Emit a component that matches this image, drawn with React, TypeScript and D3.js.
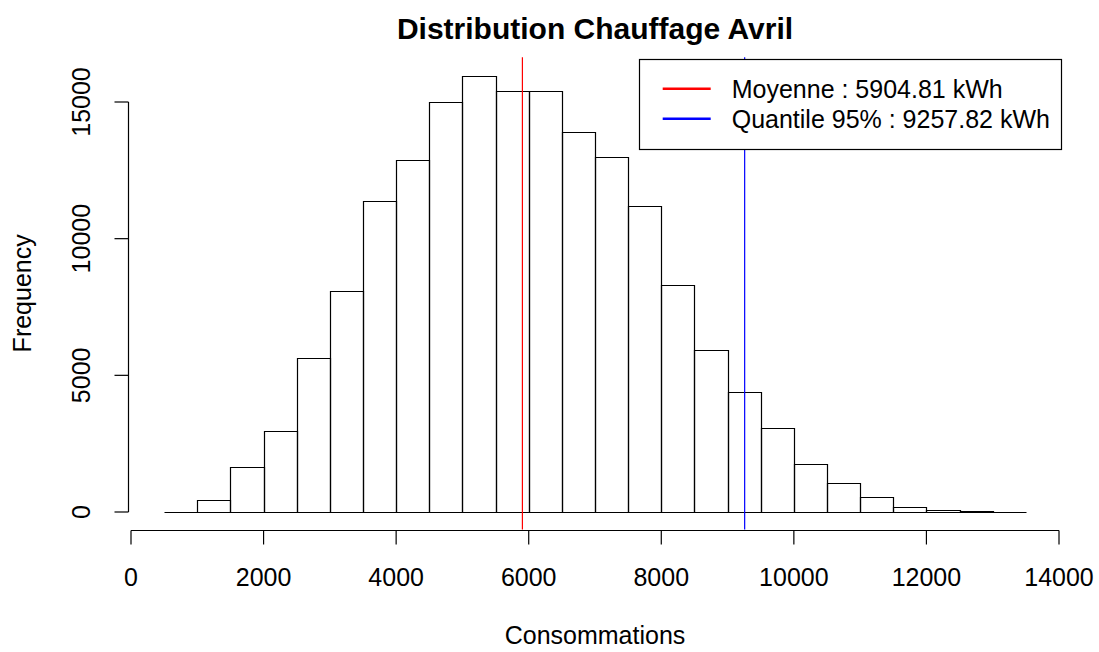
import React from "react";
import * as d3 from "d3";

const binStarts: number[] = [500, 1000, 1500, 2000, 2500, 3000, 3500, 4000, 4500, 5000, 5500, 6000, 6500, 7000, 7500, 8000, 8500, 9000, 9500, 10000, 10500, 11000, 11500, 12000, 12500, 13000];
const binWidth = 500;
const counts: number[] = [0, 430, 1660, 2950, 5630, 8100, 11360, 12890, 14990, 15950, 15400, 15420, 13890, 12990, 11190, 8320, 5920, 4400, 3060, 1770, 1060, 550, 190, 70, 50, 0];
const xTicks: number[] = [0, 2000, 4000, 6000, 8000, 10000, 12000, 14000];
const yTicks: number[] = [0, 5000, 10000, 15000];
const meanValue = 5904.81;
const q95Value = 9257.82;
const legendLabels: string[] = ["Moyenne : 5904.81 kWh", "Quantile 95% : 9257.82 kWh"];
const legendColors: string[] = ["#FF0000", "#0000FF"];
const title = "Distribution Chauffage Avril";
const xLabel = "Consommations";
const yLabel = "Frequency";

const W = 1099;
const H = 652;
const FONT = "'Liberation Sans', Arial, Helvetica, sans-serif";

export default function App() {
  const x = d3.scaleLinear().domain([0, 14000]).range([131, 1059]);
  const y = d3.scaleLinear().domain([0, 15000]).range([512, 102]);

  const plotLeft = x(-20);
  const plotRight = x(14020);
  const plotTop = y(16640);
  const plotBottom = y(-640);

  const cx = (plotLeft + plotRight) / 2;
  const cy = (plotTop + plotBottom) / 2;

  const bars = binStarts.map((s, i) => ({ x0: s, x1: s + binWidth, c: counts[i] }));

  const legX0 = 639.5;
  const legY0 = 59.5;
  const legX1 = 1061.5;
  const legY1 = 149.5;

  const barPath = (b: { x0: number; x1: number; c: number }) => {
    const l = Math.round(x(b.x0)) + 0.5;
    const r = Math.round(x(b.x1)) + 0.5;
    const t = Math.round(y(b.c)) + 0.5;
    const bt = Math.round(y(0)) + 0.5;
    const p = d3.path();
    p.moveTo(l, bt);
    p.lineTo(l, t);
    p.lineTo(r, t);
    p.lineTo(r, bt);
    p.closePath();
    return p.toString();
  };

  return (
    <svg
      width={W}
      height={H}
      style={{ position: "absolute", left: 0, top: 0, background: "#fff" }}
      fontFamily={FONT}
    >
      <rect x={0} y={0} width={W} height={H} fill="#fff" />
      {/* bars */}
      <g>
        {bars.map((b, i) => (
          <path key={i} d={barPath(b)} fill="none" stroke="#000" strokeWidth={1.2} />
        ))}
      </g>
      {/* vertical lines */}
      <line x1={x(meanValue)} x2={x(meanValue)} y1={plotTop} y2={plotBottom} stroke="#FF0000" strokeWidth={1.2} />
      <line x1={x(q95Value)} x2={x(q95Value)} y1={plotTop} y2={plotBottom} stroke="#0000FF" strokeWidth={1.2} />

      {/* x axis */}
      <g>
        <line x1={x(xTicks[0])} x2={x(xTicks[xTicks.length - 1])} y1={530.5} y2={530.5} stroke="#000" strokeWidth={1.2} />
        {xTicks.map((t) => (
          <g key={t}>
            <line x1={x(t)} x2={x(t)} y1={530.5} y2={544.5} stroke="#000" strokeWidth={1.2} />
            <text x={x(t)} y={586} textAnchor="middle" fontSize={25} fill="#000">
              {t}
            </text>
          </g>
        ))}
      </g>
      {/* y axis */}
      <g>
        <line x1={128.5} x2={128.5} y1={y(yTicks[0])} y2={y(yTicks[yTicks.length - 1])} stroke="#000" strokeWidth={1.2} />
        {yTicks.map((t) => (
          <g key={t}>
            <line x1={114.5} x2={128.5} y1={y(t)} y2={y(t)} stroke="#000" strokeWidth={1.2} />
            <text
              transform={`translate(90,${y(t)}) rotate(-90)`}
              textAnchor="middle"
              fontSize={25}
              fill="#000"
            >
              {t}
            </text>
          </g>
        ))}
      </g>

      {/* titles */}
      <text x={cx} y={39} textAnchor="middle" fontSize={30} fontWeight="bold" fill="#000">
        {title}
      </text>
      <text x={cx} y={644} textAnchor="middle" fontSize={25} fill="#000">
        {xLabel}
      </text>
      <text transform={`translate(31,${cy}) rotate(-90)`} textAnchor="middle" fontSize={25} fill="#000">
        {yLabel}
      </text>

      {/* legend */}
      <g>
        <rect x={legX0} y={legY0} width={legX1 - legX0} height={legY1 - legY0} fill="#fff" stroke="#000" strokeWidth={1.2} />
        {legendLabels.map((lab, i) => {
          const ly = 88.7 + i * 30;
          return (
            <g key={i}>
              <line x1={662.7} x2={710.7} y1={ly} y2={ly} stroke={legendColors[i]} strokeWidth={2.4} />
              <text x={731.7} y={ly + 9} fontSize={25} fill="#000">
                {lab}
              </text>
            </g>
          );
        })}
      </g>
    </svg>
  );
}
